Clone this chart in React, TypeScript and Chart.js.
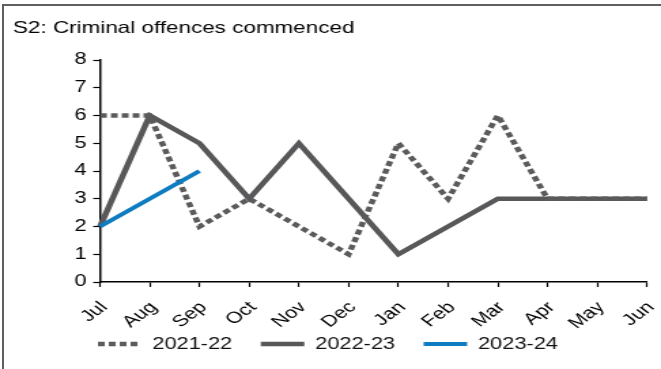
import React, { useEffect, useRef } from 'react';
import { Chart, registerables } from 'chart.js';

Chart.register(...registerables);

// ---- data ----
const months = ['Jul', 'Aug', 'Sep', 'Oct', 'Nov', 'Dec', 'Jan', 'Feb', 'Mar', 'Apr', 'May', 'Jun'];
const series2122 = [6, 6, 2, 3, 2, 1, 5, 3, 6, 3, 3, 3];
const series2223 = [2, 6, 5, 3, 5, 3, 1, 2, 3, 3, 3, 3];
const series2324 = [2, 3, 4];
const seriesNames = ['2021-22', '2022-23', '2023-24'];
const yMin = 0;
const yMax = 8;
const yStep = 1;
const titleText = 'S2: Criminal offences commenced';

// ---- layout ----
const OUT_W = 661;
const OUT_H = 369;
const STRETCH = 1.36;
const W = Math.round(OUT_W / STRETCH);
const FONT = '"Liberation Sans", Arial, Helvetica, sans-serif';

const lineLegend = {
  id: 'lineLegend',
  afterDraw(chart: any) {
    const ctx = chart.ctx;
    const area = chart.chartArea;
    let x = area.left - 1.5;
    const y = 344;
    ctx.save();
    ctx.font = `16px ${FONT}`;
    ctx.textBaseline = 'middle';
    ctx.textAlign = 'left';
    chart.data.datasets.forEach((ds: any) => {
      ctx.strokeStyle = ds.borderColor;
      ctx.lineWidth = ds.borderWidth;
      ctx.lineCap = 'butt';
      ctx.setLineDash(ds.borderDash || []);
      ctx.beginPath();
      ctx.moveTo(x, y);
      ctx.lineTo(x + 32, y);
      ctx.stroke();
      ctx.setLineDash([]);
      ctx.fillStyle = '#111';
      ctx.fillText(ds.label, x + 40, y + 1);
      x += 40 + ctx.measureText(ds.label).width + 21;
    });
    ctx.restore();
  },
};

export default function App() {
  const ref = useRef<HTMLCanvasElement | null>(null);

  useEffect(() => {
    if (!ref.current) return;
    const chart = new Chart(ref.current, {
      type: 'line',
      data: {
        labels: months,
        datasets: [
          {
            label: seriesNames[0],
            data: series2122,
            borderColor: '#5b5b5b',
            borderWidth: 4.5,
            borderDash: [5, 3],
            borderCapStyle: 'butt',
            pointRadius: 0,
            tension: 0,
            order: 1,
          },
          {
            label: seriesNames[1],
            data: series2223,
            borderColor: '#58585a',
            borderWidth: 4.5,
            pointRadius: 0,
            tension: 0,
            order: 2,
          },
          {
            label: seriesNames[2],
            data: series2324,
            borderColor: '#0e7cc1',
            borderWidth: 4,
            pointRadius: 0,
            tension: 0,
            order: 0,
          },
        ],
      },
      options: {
        animation: false,
        responsive: false,
        devicePixelRatio: 1,
        layout: { padding: { left: 9.6, right: 10.3, top: 0, bottom: 37 } },
        plugins: {
          legend: { display: false },
          tooltip: { enabled: false },
          title: {
            display: true,
            text: titleText,
            align: 'start',
            color: '#000',
            font: { family: FONT, size: 16.5, weight: 'normal' },
            padding: { top: 19, bottom: 21.2 },
          },
        },
        scales: {
          x: {
            type: 'category',
            offset: false,
            grid: {
              display: true,
              drawOnChartArea: false,
              drawTicks: true,
              tickLength: 5,
              tickColor: '#000',
              tickWidth: 1.2,
            },
            border: { display: true, color: '#000', width: 1.5 },
            ticks: {
              autoSkip: false,
              maxRotation: 45,
              minRotation: 45,
              padding: 11,
              labelOffset: 3,
              color: '#000',
              font: { family: FONT, size: 16 },
            },
            afterFit(scale: any) {
              scale.height = 50;
              scale.paddingLeft = 0;
              scale.paddingRight = 0;
            },
          },
          y: {
            min: yMin,
            max: yMax,
            grid: {
              display: true,
              drawOnChartArea: false,
              drawTicks: true,
              tickLength: 5,
              tickColor: '#000',
              tickWidth: 1.2,
            },
            border: { display: true, color: '#000', width: 1.5 },
            ticks: {
              stepSize: yStep,
              padding: 5,
              color: '#000',
              font: { family: FONT, size: 16 },
            },
            afterFit(scale: any) {
              scale.width = 100 / STRETCH - 9.6;
            },
          },
        },
      },
      plugins: [lineLegend],
    });
    return () => chart.destroy();
  }, []);

  return (
    <div style={{ position: 'absolute', left: 0, top: 0, width: OUT_W, height: OUT_H, background: '#fff', overflow: 'hidden' }}>
      <canvas
        ref={ref}
        width={W}
        height={OUT_H}
        style={{ display: 'block', width: OUT_W + 'px', height: OUT_H + 'px' }}
      />
      <div
        style={{
          position: 'absolute',
          left: 2,
          top: 4,
          right: 0,
          bottom: 0,
          borderTop: '2px solid #5f5f5f',
          borderLeft: '2px solid #5f5f5f',
          pointerEvents: 'none',
        }}
      />
    </div>
  );
}
